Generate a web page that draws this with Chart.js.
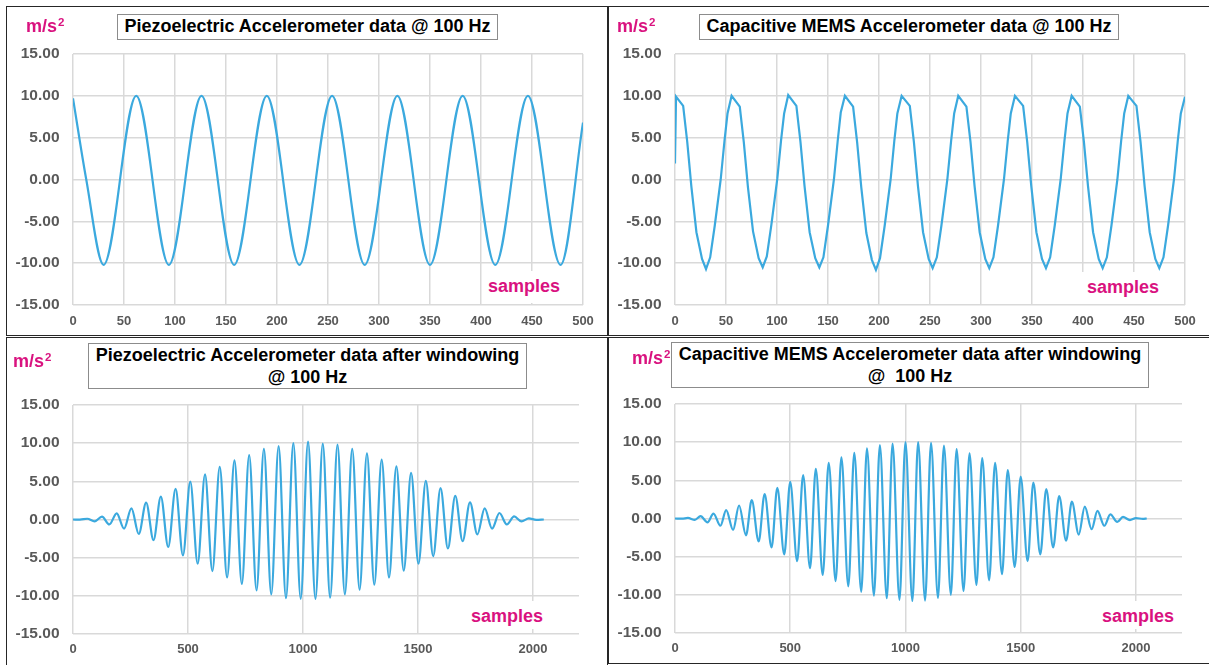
<!DOCTYPE html>
<html>
<head>
<meta charset="utf-8">
<script src="https://cdn.jsdelivr.net/npm/chart.js@4.4.1/dist/chart.umd.min.js"></script>
<style>
  body { margin: 0; width: 1209px; height: 665px; background: #fff; position: relative; overflow: hidden;
         font-family: "Liberation Sans", Arial, sans-serif; }
  canvas { position: absolute; }
  .panel { position: absolute; box-sizing: border-box; border: 1px solid #262626; }
  .title { position: absolute; box-sizing: border-box; border: 1px solid #8c8c8c; background: #fff; color: #000;
           font-weight: bold; font-size: 18px; line-height: 21.6px; text-align: center; white-space: pre; padding-top: 1px; }
  .unit { position: absolute; color: #d9127f; font-weight: bold; font-size: 18px; line-height: 21.6px; white-space: nowrap; }
  .unit span { font-size: 11.5px; position: relative; top: -6px; margin-left: 1px; }
  .xname { position: absolute; background: #fff; color: #d9127f; font-weight: bold; font-size: 18px; line-height: 21.6px;
           padding: 5px 6px 5px 6px; }
</style>
</head>
<body>
<canvas id="c1" width="607" height="336" style="left:0;top:0"></canvas>
<canvas id="c2" width="602" height="336" style="left:607px;top:0"></canvas>
<canvas id="c3" width="607" height="329" style="left:0;top:336px"></canvas>
<canvas id="c4" width="602" height="329" style="left:607px;top:336px"></canvas>

<div class="panel" style="left:6px;top:6px;width:602px;height:330px"></div>
<div class="panel" style="left:608px;top:6px;width:605px;height:330px"></div>
<div class="panel" style="left:6px;top:337px;width:602px;height:340px"></div>
<div class="panel" style="left:608px;top:337px;width:605px;height:327px"></div>

<div class="title" style="left:117px;top:14px;width:381px;height:26px">Piezoelectric Accelerometer data @ 100 Hz</div>
<div class="title" style="left:699px;top:14px;width:420px;height:26px">Capacitive MEMS Accelerometer data @ 100 Hz</div>
<div class="title" style="left:88px;top:343px;width:439px;height:46px">Piezoelectric Accelerometer data after windowing
@ 100 Hz</div>
<div class="title" style="left:671px;top:342px;width:478px;height:46px">Capacitive MEMS Accelerometer data after windowing
@  100 Hz</div>

<div class="unit" style="left:26px;top:16px">m/s<span>2</span></div>
<div class="unit" style="left:617px;top:16px">m/s<span>2</span></div>
<div class="unit" style="left:13px;top:351px">m/s<span>2</span></div>
<div class="unit" style="left:632px;top:348px">m/s<span>2</span></div>

<div class="xname" style="left:482px;top:271px">samples</div>
<div class="xname" style="left:1081px;top:272px">samples</div>
<div class="xname" style="left:465px;top:601px;padding-bottom:1px">samples</div>
<div class="xname" style="left:1096px;top:601px;padding-bottom:1px">samples</div>

<script>
// piezo sensor, raw record: peaks and troughs of the 100 Hz tone
var piezoX = [0, 13, 30, 62, 94, 126, 158, 190, 222, 254, 286, 318, 350, 382, 414, 446, 478, 500];
var piezoY = [9.7, 0, -10.2, 10.0, -10.2, 10.0, -10.2, 10.0, -10.2, 10.0, -10.2, 10.0, -10.2, 10.0, -10.2, 10.0, -10.2, 6.8];

// MEMS sensor, raw record (straight segments between samples)
var memsX = [
  0, 1, 8, 12, 16, 21, 26.5, 30.4, 34.5, 39, 44.8, 48.5, 51.5,
  55.5, 63.5, 67.5, 71.5, 76.5, 82, 86, 90, 94.5, 100.3, 104, 107,
  111, 119, 123, 127, 132, 137.5, 141.5, 145.5, 150, 155.8, 159.5, 162.5,
  166.6, 174.6, 178.6, 182.6, 187.6, 193, 197, 201, 205.6, 211.4, 215, 218,
  222.2, 230.2, 234.2, 238.2, 243.2, 248.7, 252.6, 256.7, 261.2, 267, 270.7, 273.7,
  277.7, 285.7, 289.7, 293.7, 298.7, 304.2, 308.1, 312.2, 316.7, 322.5, 326.2, 329.2,
  333.3, 341.3, 345.3, 349.3, 354.3, 359.8, 363.7, 367.8, 372.3, 378.1, 381.8, 384.8,
  388.9, 396.9, 400.9, 404.9, 409.9, 415.4, 419.3, 423.4, 427.9, 433.7, 437.4, 440.4,
  444.4, 452.4, 456.4, 460.4, 465.4, 470.9, 474.8, 478.9, 483.4, 489.2, 492.9, 495.9,
  500
];
var memsY = [
  1.9, 9.9, 8.8, 4.5, -0.8, -6.3, -9.5, -10.7, -9.3, -5.5, 0, 4.6, 7.9,
  10.0, 8.7, 4.4, -0.9, -6.2, -9.4, -10.5, -9.2, -5.4, 0.1, 4.7, 7.9,
  10.1, 8.8, 4.5, -0.8, -6.3, -9.4, -10.5, -9.3, -5.5, 0, 4.6, 8.0,
  10.0, 8.7, 4.4, -0.9, -6.4, -9.6, -10.8, -9.4, -5.5, 0, 4.6, 7.9,
  10.0, 8.8, 4.5, -0.8, -6.3, -9.5, -10.6, -9.3, -5.5, 0, 4.6, 7.9,
  10.0, 8.7, 4.5, -0.8, -6.3, -9.5, -10.6, -9.3, -5.5, 0, 4.6, 7.9,
  10.0, 8.8, 4.5, -0.8, -6.3, -9.5, -10.6, -9.3, -5.5, 0, 4.6, 7.9,
  10.0, 8.7, 4.5, -0.8, -6.3, -9.5, -10.6, -9.3, -5.5, 0, 4.6, 7.9,
  10.0, 8.8, 4.5, -0.8, -6.3, -9.5, -10.6, -9.3, -5.5, 0, 4.6, 7.9,
  9.9
];

// piezo sensor after the window, 2048 samples
var piezoWinX = [0, 30, 62, 94, 126, 158, 190, 222, 254, 286, 318, 350, 382, 414, 446, 478, 510, 542, 574, 606,
  638, 670, 702, 734, 766, 798, 830, 862, 894, 926, 958, 990, 1022, 1054, 1086, 1118, 1150, 1182, 1214, 1246,
  1278, 1310, 1342, 1374, 1406, 1438, 1470, 1502, 1534, 1566, 1598, 1630, 1662, 1694, 1726, 1758, 1790, 1822,
  1854, 1886, 1918, 1950, 1982, 2014, 2047];
var piezoWinY = [0, -0.01, 0.1, -0.25, 0.37, -0.65, 0.8, -1.2, 1.45, -1.9, 2.2, -2.7, 3.0, -3.6, 4.0, -4.7, 4.95, -5.8, 5.9, -6.75,
  6.9, -7.6, 7.75, -8.45, 8.45, -9.3, 9.25, -9.8, 9.6, -10.3, 10.0, -10.4, 10.2, -10.4, 9.95, -10.25, 9.8, -9.8, 9.25, -9.2,
  8.65, -8.55, 7.85, -7.6, 6.95, -6.7, 6.1, -5.8, 5.05, -4.8, 4.1, -3.8, 3.1, -2.85, 2.25, -1.95, 1.45, -1.2,
  0.85, -0.65, 0.4, -0.25, 0.15, -0.05, 0];

// MEMS sensor after the window, 2048 samples
var memsWinX = [0, 30, 56, 86, 111, 141, 167, 197, 222, 252, 278, 308, 333, 363, 389, 419, 444, 474, 500, 530,
  556, 586, 611, 641, 667, 697, 722, 752, 778, 808, 833, 863, 889, 919, 944, 974, 1000, 1030, 1055, 1085,
  1111, 1141, 1167, 1197, 1222, 1252, 1278, 1308, 1333, 1363, 1389, 1419, 1444, 1474, 1500, 1530, 1555, 1585,
  1611, 1641, 1667, 1697, 1722, 1752, 1778, 1808, 1833, 1863, 1889, 1919, 1944, 1974, 2000, 2030, 2047];
var memsWinY = [0, -0.02, 0.07, -0.18, 0.3, -0.5, 0.65, -0.95, 1.1, -1.5, 1.7, -2.2, 2.4, -3.0, 3.2, -3.8, 4.0, -4.7, 4.8, -5.6,
  5.7, -6.5, 6.5, -7.4, 7.3, -8.2, 8.0, -8.9, 8.6, -9.6, 9.2, -10.1, 9.6, -10.45, 9.8, -10.65, 10.0, -10.8, 10.0, -10.75,
  9.9, -10.4, 9.55, -10.0, 9.1, -9.5, 8.55, -8.7, 7.9, -8.1, 7.3, -7.3, 6.35, -6.35, 5.5, -5.6, 4.7, -4.7,
  3.85, -3.8, 2.95, -2.9, 2.2, -2.1, 1.55, -1.4, 1.0, -0.95, 0.55, -0.45, 0.2, -0.2, 0.05, -0.05, 0];

// axis ticks
var rawTicks = [0, 50, 100, 150, 200, 250, 300, 350, 400, 450, 500];
var winTicks = [0, 500, 1000, 1500, 2000];
var yTicks = [-15, -10, -5, 0, 5, 10, 15];

var LINE = '#3ba9de';
var GRID = '#d9d9d9';
var TICK = '#595959';

Chart.defaults.font.family = '"Liberation Sans", Arial, sans-serif';

function drawWave(id, xs, ys, cfg) {
  var pts = xs.map(function (x, i) { return { x: x, y: ys[i] }; });
  return new Chart(document.getElementById(id), {
    type: 'line',
    data: {
      datasets: [{
        data: pts,
        borderColor: LINE,
        borderWidth: 2.2,
        pointRadius: 0,
        fill: false,
        tension: 0,
        cubicInterpolationMode: cfg.smooth ? 'monotone' : 'default'
      }]
    },
    options: {
      responsive: false,
      animation: false,
      devicePixelRatio: 1,
      layout: { padding: cfg.pad },
      plugins: { legend: { display: false }, tooltip: { enabled: false } },
      scales: {
        x: {
          type: 'linear',
          min: 0,
          max: cfg.xMax,
          afterBuildTicks: function (s) { s.ticks = cfg.xTicks.map(function (v) { return { value: v }; }); },
          afterFit: function (s) { s.height = cfg.xH; },
          grid: { color: GRID, lineWidth: 1.5, drawTicks: false },
          border: { display: false },
          ticks: {
            autoSkip: false, maxRotation: 0, padding: cfg.xPad, color: TICK, font: { size: 13, weight: 'bold' },
            callback: function (v) { return String(v); }
          }
        },
        y: {
          min: yTicks[0],
          max: yTicks[yTicks.length - 1],
          afterBuildTicks: function (s) { s.ticks = yTicks.map(function (v) { return { value: v }; }); },
          afterFit: function (s) { s.width = cfg.yW; },
          grid: { color: GRID, lineWidth: 1.5, drawTicks: false },
          border: { display: false },
          ticks: {
            padding: 13.5, color: TICK, font: { size: 15.5, weight: 'bold' },
            callback: function (v) { return v.toFixed(2); }
          }
        }
      }
    }
  });
}

drawWave('c1', piezoX, piezoY, { smooth: true, xMax: 500, xTicks: rawTicks, xH: 31, xPad: 9, yW: 73,
  pad: { top: 54, right: 24, bottom: 0, left: 0 } });
drawWave('c2', memsX, memsY, { smooth: false, xMax: 500, xTicks: rawTicks, xH: 31, xPad: 9, yW: 68,
  pad: { top: 54, right: 24, bottom: 0, left: 0 } });
drawWave('c3', piezoWinX, piezoWinY, { smooth: true, xMax: 2200, xTicks: winTicks, xH: 31, xPad: 8, yW: 73,
  pad: { top: 69, right: 28, bottom: 0, left: 0 } });
drawWave('c4', memsWinX, memsWinY, { smooth: true, xMax: 2200, xTicks: winTicks, xH: 32, xPad: 8, yW: 68,
  pad: { top: 68, right: 27, bottom: 0, left: 0 } });
</script>
</body>
</html>
